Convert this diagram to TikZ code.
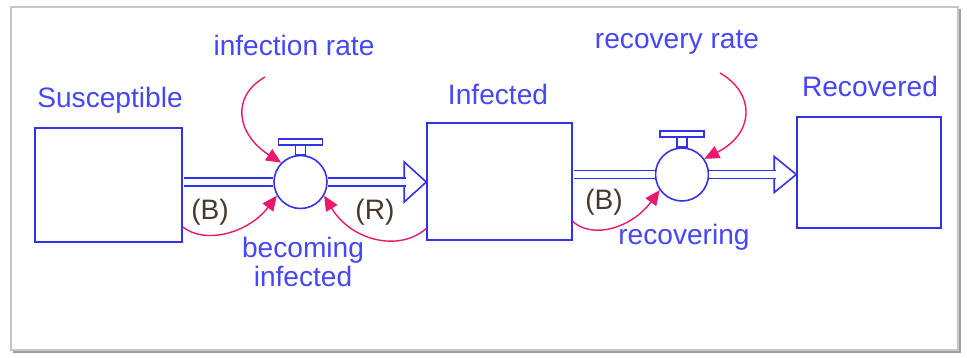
\documentclass[tikz,border=0pt]{standalone}
\usepackage{fontspec}
\setmainfont{Liberation Sans}
\usetikzlibrary{arrows.meta}

\definecolor{flowblue}{RGB}{50,50,235}
\definecolor{labelblue}{RGB}{70,70,250}
\definecolor{linkpink}{RGB}{235,25,110}
\definecolor{loopgray}{RGB}{70,58,45}

\tikzset{
  stock/.style={draw=flowblue, line width=0.9pt, inner sep=0pt},
  valve/.style={circle, draw=flowblue, line width=0.9pt, fill=white, minimum size=1.06cm, inner sep=0pt},
  pipe/.style={draw=flowblue, line width=0.9pt, double=white, double distance=3.6pt},
  pipehead/.style={draw=flowblue, line width=0.9pt, fill=white},
  link/.style={draw=linkpink, line width=0.8pt, -{Triangle[length=8.5pt,width=7.5pt]}},
  varlabel/.style={text=labelblue, inner sep=0pt, align=center},
  looplabel/.style={text=loopgray, inner sep=0pt}
}

\begin{document}
\begin{tikzpicture}[x=0.02cm, y=-0.02cm, font=\fontsize{16}{17}\selectfont]
  \useasboundingbox (0,0) rectangle (967,358);
  % Frame
  \fill[white] (0,0) rectangle (967,358);
  \draw[gray!45, line width=0.8pt] (11,7) rectangle (958,350);
  \draw[gray!75, line width=1.6pt] (13,352) -- (960,352) -- (960,9);

  % Stocks
  \node[stock, minimum width=2.94cm, minimum height=2.28cm] (sus) at (108.5,185) {};
  \node[stock, minimum width=2.90cm, minimum height=2.34cm] (inf) at (499.5,181.5) {};
  \node[stock, minimum width=2.88cm, minimum height=2.22cm] (rec) at (869,172.5) {};

  % Valves
  \node[valve] (v1) at (300.5,182) {};
  \node[valve] (v2) at (682,174.5) {};
  \foreach \v in {v1,v2}
    \draw[flowblue, line width=0.9pt, fill=white] (\v.north) ++(-5,0) rectangle ++(10,-10) ++(-27,0) rectangle ++(44,-6);

  % Flows
  \draw[pipehead] (inf.west |- v1) -- ++(-22,-20) -- ++(0,40) -- cycle;
  \draw[pipehead] (rec.west |- v2) -- ++(-22,-18) -- ++(0,36) -- cycle;
  \draw[pipe, shorten <=0.45pt] (sus.east |- v1) -- (v1.west);
  \draw[pipe, shorten >=0.4cm] (v1.east) -- (v1 -| inf.west);
  \draw[pipe, shorten <=0.45pt] (inf.east |- v2) -- (v2.west);
  \draw[pipe, shorten >=0.4cm] (v2.east) -- (v2 -| rec.west);

  % Labels
  \node[varlabel] (susl) at (110,100) {Susceptible};
  \node[varlabel] (infl) at (498,94) {Infected};
  \node[varlabel] (recl) at (870,86) {Recovered};
  \node[varlabel] (irate) at (294,45) {infection rate};
  \node[varlabel] (rrate) at (677,42) {recovery rate};
  \node[varlabel] (v1l) at (303,262) {becoming\\infected};
  \node[varlabel] (v2l) at (684,237) {recovering};
  \node[looplabel] (b1) at (210,212) {(B)};
  \node[looplabel] (r1) at (375,212) {(R)};
  \node[looplabel] (b2) at (604,202) {(B)};

  % Links
  \coordinate (irtail) at (265,77);
  \coordinate (rrtail) at (720,73);
  \draw[link] (irtail) .. controls +(-35,20) and +(-44,-28) .. (v1.135);
  \draw[link] (rrtail) .. controls +(35,20) and +(51,-26) .. (v2.35);
  \draw[link] ([yshift=-0.84cm]sus.east) .. controls +(23,18) and +(-28,37) .. (v1.210);
  \draw[link] ([yshift=-0.94cm]inf.west) .. controls +(-27,24) and +(27,45) .. (v1.330);
  \draw[link] ([yshift=-0.8cm]inf.east) .. controls +(20,18) and +(-28,38) .. (v2.215);
\end{tikzpicture}
\end{document}
